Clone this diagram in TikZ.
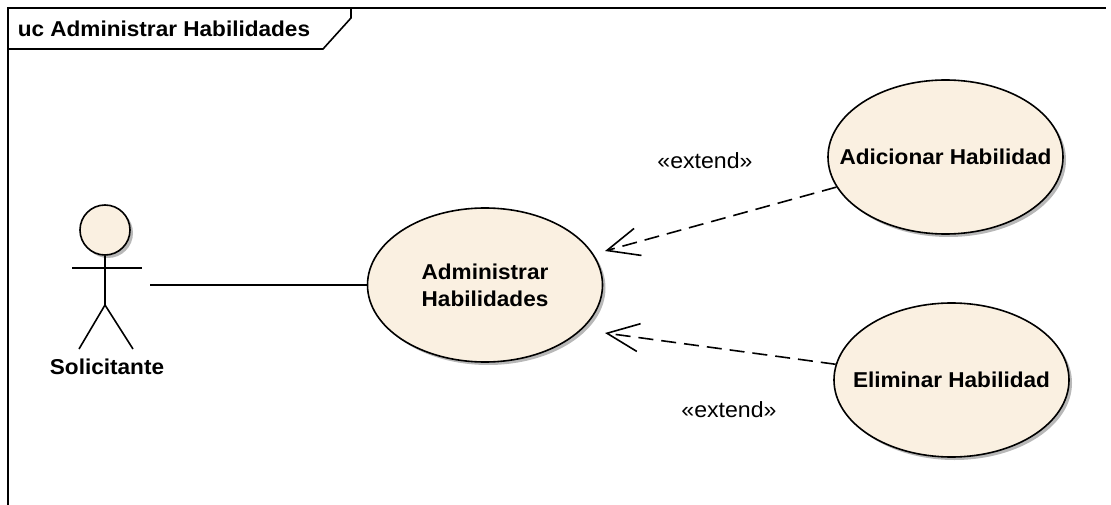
\documentclass[tikz,border=0pt]{standalone}
\usepackage{fontspec}
\setmainfont[FakeStretch=1.05]{Liberation Sans}
\usetikzlibrary{shapes.geometric,arrows.meta,shadows}
\definecolor{ucfill}{RGB}{250,240,225}
\begin{document}
\begin{tikzpicture}[x=1pt,y=-1pt,
  line width=1.6pt,
  softshadow/.style={drop shadow={shadow xshift=3pt, shadow yshift=-3pt, fill=black!35, opacity=0.8}},
  ucfont/.style={font=\fontsize{21.5}{27}\selectfont\bfseries, align=center, inner sep=0pt},
  usecase/.style={ellipse, draw, fill=ucfill, inner sep=0pt,
    minimum width=235pt, minimum height=154pt, softshadow,
    label={[ucfont]center:#1}},
  boldlbl/.style={font=\fontsize{21.5}{27}\selectfont\bfseries, inner sep=0pt},
  lbl/.style={font=\fontsize{22}{26}\selectfont, inner sep=0pt},
  extendline/.style={dash pattern=on 15pt off 8pt,
    -{Straight Barb[length=32pt,width=28pt,line width=1.6pt]}},
]
\useasboundingbox (0,0) rectangle (1111,505);

% diagram frame with its name tab
\draw (8,505) -- (8,8) -- (1106,8);
\draw (8,49) -- (323,49) -- (351,18) -- (351,8);
\node[boldlbl, anchor=west] (title) at (17,29) {uc Administrar Habilidades};

% actor
\node[circle, draw, fill=ucfill, minimum size=50pt, inner sep=0pt, softshadow] (head) at (105,230) {};
\coordinate (hip) at (105,305);
\coordinate (armL) at (72,268);
\coordinate (armR) at (142,268);
\coordinate (footL) at (79,349);
\coordinate (footR) at (133,349);
\draw (head) -- (hip);
\draw (armL) -- (armR);
\draw (footL) -- (hip) -- (footR);
\node[boldlbl] (actorlbl) at (107,367) {Solicitante};

% use cases
\node[usecase={Administrar\\Habilidades}] (uc) at (485,285) {};
\node[usecase={Adicionar Habilidad}] (add) at (945.5,157) {};
\node[usecase={Eliminar Habilidad}] (del) at (951.5,380) {};

% association
\coordinate (actorend) at (150,285);
\draw (actorend) -- (uc.west);

% extend relations
\coordinate (tipA) at (605,251);
\coordinate (tipB) at (605,333);
\draw[extendline] (add) -- (tipA);
\draw[extendline] (del) -- (tipB);
\node[lbl] (extA) at (705,161) {«extend»};
\node[lbl] (extB) at (729,410) {«extend»};
\end{tikzpicture}
\end{document}
